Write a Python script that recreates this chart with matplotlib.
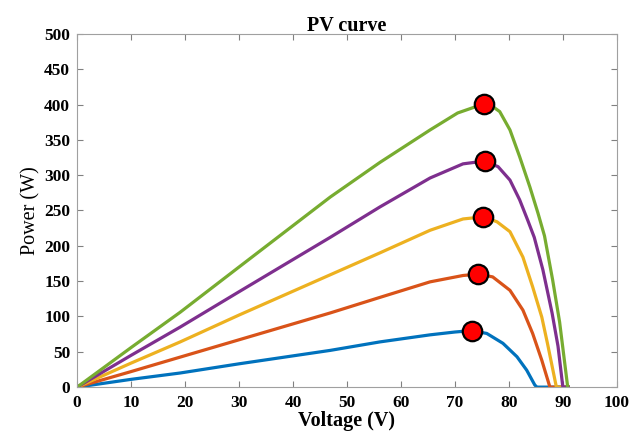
import matplotlib.pyplot as plt

plt.rcParams['font.family'] = ['Liberation Serif', 'DejaVu Serif']

# voltage / power points, one pair of lists per curve
v_blue = [0, 10, 19.1, 30, 46.9, 56.1, 65.4, 70.0, 73.1, 75.9, 78.9, 81.5, 83.3, 84.8, 85.2, 91.0]
p_blue = [0, 11, 20, 33, 52, 64, 74, 78, 80, 76, 62, 43, 24, 3, 0, 0]

v_orange = [0, 10, 19.1, 30, 46.9, 56.1, 65.4, 71.5, 74.3, 77.0, 80.2, 82.6, 84.4, 86.1, 87.6, 91.0]
p_orange = [0, 22, 42.5, 67, 105, 127, 149, 158, 160, 156, 137, 109, 76, 38, 0, 0]

v_yellow = [0, 10, 19.1, 30, 46.9, 56.1, 65.4, 71.5, 75.2, 77.8, 80.2, 82.6, 84.4, 86.1, 87.2, 88.8, 91.0]
p_yellow = [0, 34, 64, 102, 159, 190, 222, 238, 241, 234, 220, 184, 142, 99, 60, 0, 0]

v_purple = [0, 10, 19.1, 30, 46.9, 56.1, 65.4, 71.5, 75.5, 78.0, 80.2, 82.0, 83.5, 84.7, 86.3, 88.0, 89.1, 90.0, 91.0]
p_purple = [0, 45, 85, 135, 212, 255, 296, 316, 320, 312, 293, 265, 236, 212, 166, 105, 58, 0, 0]

v_green = [0, 10, 19.1, 30, 46.9, 56.1, 65.4, 70.5, 75.4, 77.0, 78.3, 80.2, 82.0, 83.9, 85.4, 86.6, 88.1, 89.4, 90.9]
p_green = [0, 56, 106, 170, 269, 318, 364, 388, 401, 397, 390, 364, 326, 283, 246, 214, 152, 92, 0]

# maximum power points
mpp_v = [73.1, 74.3, 75.2, 75.5, 75.4]
mpp_p = [80, 160, 241, 320, 401]

curves = [
    (v_blue, p_blue, '#0072BD'),
    (v_orange, p_orange, '#D95319'),
    (v_yellow, p_yellow, '#EDB120'),
    (v_purple, p_purple, '#7E2F8E'),
    (v_green, p_green, '#77AC30'),
]

fig = plt.figure(figsize=(6.32, 4.34), dpi=100)
ax = fig.add_axes([0.122, 0.108, 0.854, 0.814])

for v, p, c in curves:
    ax.plot(v, p, color=c, linewidth=2.3, solid_joinstyle='round')

ax.plot(mpp_v, mpp_p, 'o', markersize=14, markerfacecolor='#FF0000',
        markeredgecolor='black', markeredgewidth=1.6, linestyle='none')

ax.set_xlim(0, 100)
ax.set_ylim(0, 500)
ax.set_xticks(range(0, 101, 10))
ax.set_yticks(range(0, 501, 50))

for s in ax.spines.values():
    s.set_color('#A0A0A0')
    s.set_linewidth(0.8)
ax.tick_params(direction='in', top=True, right=True, length=4, color='#808080',
               labelsize=12.5)
ax.tick_params(axis='x', pad=6)
ax.tick_params(axis='y', pad=5)
for lbl in ax.get_xticklabels() + ax.get_yticklabels():
    lbl.set_fontweight('bold')

ax.set_title('PV curve', fontweight='bold', fontsize=14.5, pad=2)
ax.set_xlabel('Voltage (V)', fontweight='bold', fontsize=14.5, labelpad=0)
ax.set_ylabel('Power (W)', fontsize=14.5, labelpad=3)

fig.savefig('out.png', dpi=100, facecolor='white')
